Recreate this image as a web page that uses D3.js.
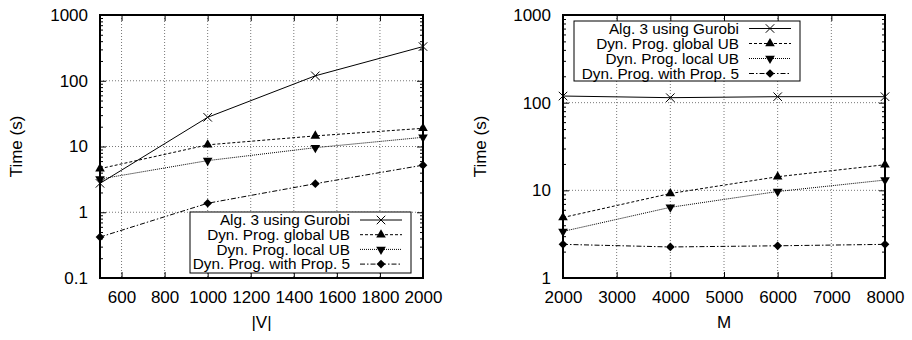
<!DOCTYPE html>
<html>
<head>
<meta charset="utf-8">
<script src="https://cdn.jsdelivr.net/npm/d3@7"></script>
<style>
  body { margin: 0; background: white; }
  svg { font-family: "Liberation Sans", Arial, sans-serif; }
</style>
</head>
<body>
<script>
// series names (legend order)
var seriesNames = ["Alg. 3 using Gurobi", "Dyn. Prog. global UB", "Dyn. Prog. local UB", "Dyn. Prog. with Prop. 5"];

// left panel: time vs |V|
var vSizes = [500, 1000, 1500, 2000];
var leftGurobi = [2.75, 27.8, 119, 331];
var leftGlobalUB = [4.6, 10.6, 14.5, 18.9];
var leftLocalUB = [3.2, 6.1, 9.6, 13.8];
var leftProp5 = [0.42, 1.37, 2.72, 5.2];
var leftXTicks = [600, 800, 1000, 1200, 1400, 1600, 1800, 2000];
var leftYTicks = [0.1, 1, 10, 100, 1000];

// right panel: time vs M
var mValues = [2000, 4000, 6000, 8000];
var rightGurobi = [119, 114, 117, 117];
var rightGlobalUB = [4.9, 9.2, 14.3, 19.6];
var rightLocalUB = [3.4, 6.4, 9.7, 13.1];
var rightProp5 = [2.42, 2.26, 2.33, 2.42];
var rightXTicks = [2000, 3000, 4000, 5000, 6000, 7000, 8000];
var rightYTicks = [1, 10, 100, 1000];

//custom "x" marker like gnuplot's
var symbolX = {
  draw: function(ctx, size) {
    var r = Math.sqrt(size) / 2;
    ctx.moveTo(-r, -r); ctx.lineTo(r, r);
    ctx.moveTo(r, -r); ctx.lineTo(-r, r);
  }
};

//line style + marker for each series
var styles = [
  { dash: null, symbol: symbolX, size: 72, fill: "none", rot: 0 },
  { dash: "3,2", symbol: d3.symbolTriangle, size: 40, fill: "black", rot: 0 },
  { dash: "1,1", symbol: d3.symbolTriangle, size: 40, fill: "black", rot: 180 },
  { dash: "5,2,1.5,2", symbol: d3.symbolSquare, size: 38, fill: "black", rot: 45 }
];

var svg = d3.select("body").append("svg")
    .attr("width", 912)
    .attr("height", 340);

function drawPanel(p) {
  var x = d3.scaleLinear().domain(p.xDomain).range([p.left, p.right]);
  var y = d3.scaleLog().domain(p.yDomain).range([p.bottom, p.top]);
  var g = svg.append("g");

  //minor values on the log axis (2..9 of each decade)
  var minor = [];
  for (var e = Math.log10(p.yDomain[0]); e < Math.log10(p.yDomain[1]); e++) {
    for (var k = 2; k < 10; k++) minor.push(k * Math.pow(10, e));
  }

  //dotted grid at the inner major ticks
  g.selectAll(".vgrid")
    .data(p.xTicks.filter(function(d) { return d > p.xDomain[0] && d < p.xDomain[1]; }))
    .enter().append("line")
      .attr("x1", function(d) { return x(d); }).attr("x2", function(d) { return x(d); })
      .attr("y1", p.top).attr("y2", p.bottom)
      .attr("stroke", "#777").attr("stroke-width", 1).attr("stroke-dasharray", "1,2");
  g.selectAll(".hgrid")
    .data(p.yTicks.filter(function(d) { return d > p.yDomain[0] && d < p.yDomain[1]; }))
    .enter().append("line")
      .attr("y1", function(d) { return y(d); }).attr("y2", function(d) { return y(d); })
      .attr("x1", p.left).attr("x2", p.right)
      .attr("stroke", "#777").attr("stroke-width", 1).attr("stroke-dasharray", "1,2");

  //axes with ticks pointing inward
  var fmt = d3.format("~g");
  var xb = g.append("g").attr("transform", "translate(0," + p.bottom + ")")
    .call(d3.axisBottom(x).tickValues(p.xTicks).tickSize(-6).tickPadding(13).tickFormat(fmt));
  var xt = g.append("g").attr("transform", "translate(0," + p.top + ")")
    .call(d3.axisTop(x).tickValues(p.xTicks).tickSize(-6).tickFormat(""));
  var yl = g.append("g").attr("transform", "translate(" + p.left + ",0)")
    .call(d3.axisLeft(y).tickValues(p.yTicks).tickSize(-6).tickPadding(12).tickFormat(fmt));
  var yr = g.append("g").attr("transform", "translate(" + p.right + ",0)")
    .call(d3.axisRight(y).tickValues(p.yTicks).tickSize(-6).tickFormat(""));
  var ylm = g.append("g").attr("transform", "translate(" + p.left + ",0)")
    .call(d3.axisLeft(y).tickValues(minor).tickSize(-3).tickFormat(""));
  var yrm = g.append("g").attr("transform", "translate(" + p.right + ",0)")
    .call(d3.axisRight(y).tickValues(minor).tickSize(-3).tickFormat(""));
  [xb, xt, yl, yr, ylm, yrm].forEach(function(a) {
    a.select(".domain").remove();
    a.selectAll("line").attr("stroke", "black");
    a.selectAll("text").attr("font-size", 17).attr("fill", "black").attr("font-family", null);
  });

  //series lines and markers
  p.series.forEach(function(vals, i) {
    var st = styles[i];
    var pts = p.xs.map(function(d, j) { return [x(d), y(vals[j])]; });
    g.append("path")
      .attr("d", d3.line()(pts))
      .attr("fill", "none").attr("stroke", "black").attr("stroke-width", 1)
      .attr("stroke-dasharray", st.dash);
    g.selectAll(".m" + i).data(pts).enter().append("path")
      .attr("d", d3.symbol().type(st.symbol).size(st.size))
      .attr("transform", function(d) { return "translate(" + d[0] + "," + d[1] + ")rotate(" + st.rot + ")"; })
      .attr("fill", st.fill).attr("stroke", "black").attr("stroke-width", st.fill == "none" ? 1 : 0);
  });

  //border
  g.append("rect")
    .attr("x", p.left).attr("y", p.top)
    .attr("width", p.right - p.left).attr("height", p.bottom - p.top)
    .attr("fill", "none").attr("stroke", "black").attr("stroke-width", 2);

  //legend box
  var lg = g.append("g");
  lg.append("rect")
    .attr("x", p.legend.x0).attr("y", p.legend.y0)
    .attr("width", p.legend.x1 - p.legend.x0).attr("height", p.legend.y1 - p.legend.y0)
    .attr("fill", "white").attr("stroke", "black").attr("stroke-width", 1);
  seriesNames.forEach(function(name, i) {
    var st = styles[i];
    var cy = p.legend.row0 + i * p.legend.step;
    var tx = p.legend.x1 - 61;
    lg.append("text")
      .attr("x", tx).attr("y", cy).attr("dy", "0.35em")
      .attr("text-anchor", "end").attr("font-size", 15.3)
      .text(name);
    lg.append("line")
      .attr("x1", p.legend.x1 - 51).attr("x2", p.legend.x1 - 9)
      .attr("y1", cy).attr("y2", cy)
      .attr("stroke", "black").attr("stroke-width", 1).attr("stroke-dasharray", st.dash);
    lg.append("path")
      .attr("d", d3.symbol().type(st.symbol).size(st.size))
      .attr("transform", "translate(" + (p.legend.x1 - 30) + "," + cy + ")rotate(" + st.rot + ")")
      .attr("fill", st.fill).attr("stroke", "black").attr("stroke-width", st.fill == "none" ? 1 : 0);
  });

  //axis titles
  g.append("text")
    .attr("text-anchor", "middle")
    .attr("transform", "translate(" + p.yTitleX + "," + ((p.top + p.bottom) / 2) + ")rotate(-90)")
    .attr("font-size", 17)
    .text("Time (s)");
  g.append("text")
    .attr("text-anchor", "middle")
    .attr("x", (p.left + p.right) / 2).attr("y", 328)
    .attr("font-size", 17)
    .text(p.xTitle);
}

drawPanel({
  left: 100, right: 423, top: 15, bottom: 278,
  xDomain: [500, 2000], yDomain: [0.1, 1000],
  xTicks: leftXTicks, yTicks: leftYTicks,
  xs: vSizes, series: [leftGurobi, leftGlobalUB, leftLocalUB, leftProp5],
  legend: { x0: 190, x1: 411, y0: 212, y1: 273, row0: 220, step: 14.7 },
  yTitleX: 22, xTitle: "|V|"
});

drawPanel({
  left: 563, right: 885, top: 15, bottom: 278,
  xDomain: [2000, 8000], yDomain: [1, 1000],
  xTicks: rightXTicks, yTicks: rightYTicks,
  xs: mValues, series: [rightGurobi, rightGlobalUB, rightLocalUB, rightProp5],
  legend: { x0: 574, x1: 800, y0: 21, y1: 81, row0: 28.5, step: 15 },
  yTitleX: 486, xTitle: "M"
});
</script>
</body>
</html>
